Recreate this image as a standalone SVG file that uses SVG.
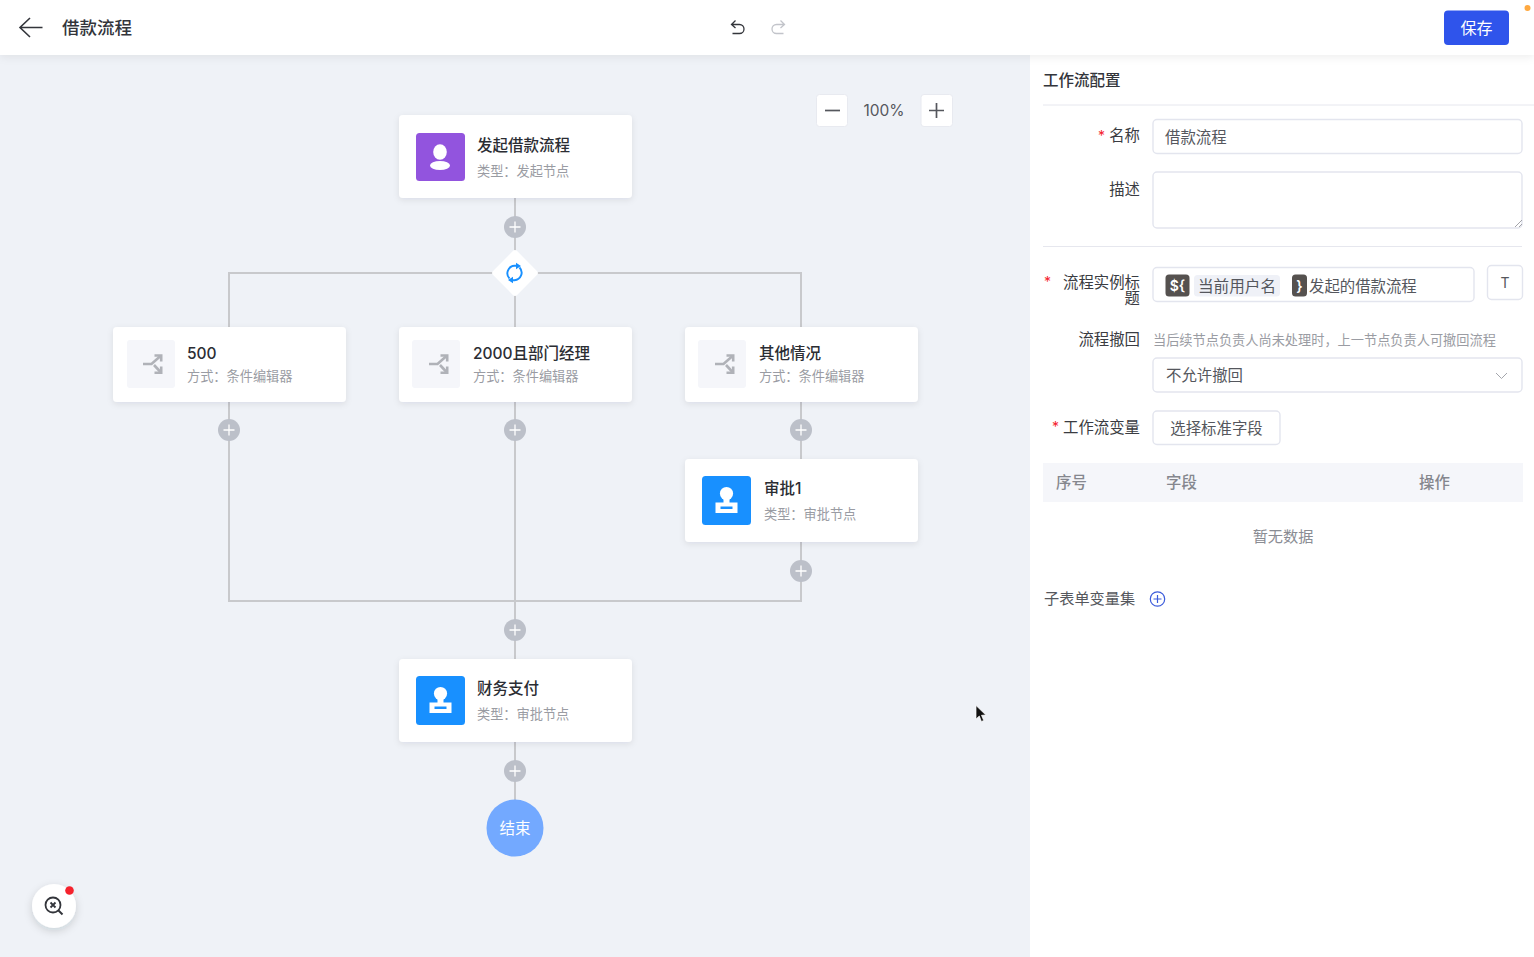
<svg xmlns="http://www.w3.org/2000/svg" width="1534" height="957" viewBox="0 0 1534 957">
<defs>
<filter id="cardShadow" x="-10%" y="-15%" width="120%" height="135%"><feDropShadow dx="0" dy="2" stdDeviation="3" flood-color="#1d2129" flood-opacity="0.09"/></filter>
<filter id="headShadow" x="-2%" y="-20%" width="104%" height="150%"><feDropShadow dx="0" dy="2" stdDeviation="4" flood-color="#1d2129" flood-opacity="0.07"/></filter>
<filter id="btnShadow" x="-40%" y="-40%" width="180%" height="190%"><feDropShadow dx="0" dy="3" stdDeviation="4" flood-color="#1d2129" flood-opacity="0.16"/></filter>
<g id="plus"><circle r="11" fill="#bcc0c9"/><path d="M-5.5 0H5.5M0-5.5V5.5" stroke="#fff" stroke-width="1.3" fill="none"/></g>
<g id="person"><ellipse cx="0" cy="-5" rx="6.800" ry="7.800" fill="#fff"/><ellipse cx="0" cy="8.500" rx="10" ry="4.500" fill="#fff"/></g>
<g id="stamp"><rect x="-24.5" y="-24.5" width="49" height="49" rx="3.5" fill="#1890ff"/><circle cx="0" cy="-7" r="6.6" fill="#fff"/><rect x="-3" y="-3" width="6" height="6" fill="#fff"/><path fill-rule="evenodd" fill="#fff" d="M-11 2H11V12.5H-11ZM-6 6V8.5H6V6Z"/></g>
<g id="branch" fill="none" stroke="#b0b2b8" stroke-width="2.6"><path d="M-9 0H-0.5L8.5-8"/><path d="M2.5-8.500H9.200V-2.500"/><path d="M2 1L8.500 8"/><path d="M2.500 8.800H9.200V2.500"/></g>
</defs>
<style>
text{font-family:"Inter","Noto Sans CJK SC","Noto Sans",sans-serif}
.card{fill:#fff;filter:url(#cardShadow)}
.title{font-size:15.5px;font-weight:500;fill:#2b2d33}
.sub{font-size:13.200px;fill:#9a9ca3}
.wire{fill:none;stroke:#c8c9cc;stroke-width:2}
.lab{font-size:15.400px;fill:#3a3c42;text-anchor:end}
.box{fill:#fff;stroke:#e3e5ee;stroke-width:1.4}
.star{font-size:14px;fill:#f5222d}
.th{font-size:15.400px;font-weight:500;fill:#85878e}
.val{font-size:15.400px;fill:#55575d}
.chipd{fill:#55514f}
.chipt{font-size:14px;font-weight:600;fill:#fff}
.zbtn{fill:#fff;stroke:#e8eaf0;stroke-width:1}
</style>
<rect width="1534" height="957" fill="#eff2f7"/>
<g id="connectors">
<path class="wire" d="M515 198V327M229 327V273H801V327M229 402V601H801V459M515 402V659M801 402V459M801 542V601M515 742V800"/>
</g>
<g id="node-start"><rect class="card" x="399" y="115" width="233" height="83" rx="4"/><rect x="416" y="133" width="49" height="48" rx="3.500" fill="#9254de"/><use href="#person" x="440" y="157"/><text class="title" x="477" y="150.500">发起借款流程</text><text class="sub" x="477" y="175.500">类型：发起节点</text></g>
<g id="add-1"><use href="#plus" x="515" y="227"/></g>
<g id="gateway"><rect x="498" y="256" width="34" height="34" rx="3" fill="#fff" transform="rotate(45 515 273)"/><path d="M509.500 278.500A7.500 7.500 0 0 1 514.500 265.800H517M519.500 267.500A7.500 7.500 0 0 1 514.500 280.200H512" fill="none" stroke="#1890ff" stroke-width="1.900"/><path d="M516 262.800L521 266L516 269.200ZM513 276.800L508 280L513 283.200Z" fill="#1890ff"/></g>
<g id="node-500"><rect class="card" x="113" y="327" width="233" height="75" rx="4"/><rect x="127" y="340" width="48" height="48" rx="3" fill="#f5f6fa"/><use href="#branch" x="152" y="364"/><text class="title" x="187" y="359">500</text><text class="sub" x="187" y="381">方式：条件编辑器</text></g>
<g id="node-2000"><rect class="card" x="399" y="327" width="233" height="75" rx="4"/><rect x="412" y="340" width="48" height="48" rx="3" fill="#f5f6fa"/><use href="#branch" x="438" y="364"/><text class="title" x="473" y="359">2000且部门经理</text><text class="sub" x="473" y="381">方式：条件编辑器</text></g>
<g id="node-other"><rect class="card" x="685" y="327" width="233" height="75" rx="4"/><rect x="698" y="340" width="48" height="48" rx="3" fill="#f5f6fa"/><use href="#branch" x="724" y="364"/><text class="title" x="759" y="359">其他情况</text><text class="sub" x="759" y="381">方式：条件编辑器</text></g>
<g id="add-2"><use href="#plus" x="229" y="430"/></g>
<g id="add-3"><use href="#plus" x="515" y="430"/></g>
<g id="add-4"><use href="#plus" x="801" y="430"/></g>
<g id="node-approve1"><rect class="card" x="685" y="459" width="233" height="83" rx="4"/><use href="#stamp" x="726.500" y="500.500"/><text class="title" x="764" y="494">审批1</text><text class="sub" x="764" y="519">类型：审批节点</text></g>
<g id="add-5"><use href="#plus" x="801" y="571"/></g>
<g id="add-6"><use href="#plus" x="515" y="630"/></g>
<g id="node-finance"><rect class="card" x="399" y="659" width="233" height="83" rx="4"/><use href="#stamp" x="440.500" y="700.500"/><text class="title" x="477" y="694">财务支付</text><text class="sub" x="477" y="719">类型：审批节点</text></g>
<g id="add-7"><use href="#plus" x="515" y="771"/></g>
<g id="node-end"><circle cx="515" cy="828" r="28.500" fill="#73a9ff"/><text x="515" y="834" font-size="15.500" fill="#fff" text-anchor="middle">结束</text></g>
<g id="zoom-controls"><rect class="zbtn" x="816.500" y="94.500" width="31" height="32" rx="3"/><path d="M825 110.500H840" stroke="#55575d" stroke-width="1.700"/><text x="884" y="116" font-size="15.500" fill="#55575d" text-anchor="middle">100%</text><rect class="zbtn" x="921" y="94.500" width="31.500" height="32" rx="3"/><path d="M929 110.500H944M936.500 103V118" stroke="#55575d" stroke-width="1.700"/></g>
<g id="cursor"><path d="M976 705.500V719L979.300 716L981.400 721.500L983.700 720.500L981.500 715.300L985.800 715Z" fill="#111" stroke="#fff" stroke-width="0.700"/></g>
<g id="help"><circle cx="54" cy="906" r="22" fill="#fff" filter="url(#btnShadow)"/><circle cx="53" cy="905" r="7.500" fill="none" stroke="#33353b" stroke-width="1.800"/><path d="M58.500 910.500L62.500 914.500" stroke="#33353b" stroke-width="2"/><path d="M50.500 902.500L55.500 907.500M55.500 902.500L50.500 907.500" stroke="#33353b" stroke-width="1.800"/><circle cx="69.500" cy="890.500" r="4.300" fill="#f5222d"/></g>
<g id="panel">
<rect x="1030" y="55" width="504" height="902" fill="#fff"/>
<text x="1043" y="86" font-size="15.500" font-weight="500" fill="#33353b">工作流配置</text>
<path d="M1043 105H1534" stroke="#e6e7ee" stroke-width="1"/>
<text class="star" x="1098" y="141">*</text><text class="lab" x="1140" y="141">名称</text>
<rect class="box" x="1153" y="119.500" width="369" height="34" rx="4"/><text class="val" x="1165" y="142.500">借款流程</text>
<text class="lab" x="1140" y="194.500">描述</text>
<rect class="box" x="1153" y="172" width="369" height="56" rx="4"/><path d="M1515 227L1522 220M1519 227L1522 224" stroke="#8b8d93" stroke-width="0.800"/>
<path d="M1043 246.500H1522" stroke="#e6e7ee" stroke-width="1"/>
<text class="star" x="1044" y="287">*</text><text class="lab" x="1140" y="287.500">流程实例标</text><text class="lab" x="1140" y="304">题</text>
<rect class="box" x="1153" y="267.500" width="321" height="34" rx="4"/>
<rect class="chipd" x="1165.500" y="274.500" width="24" height="22" rx="3.500"/><text class="chipt" x="1177.500" y="291" text-anchor="middle">${</text>
<rect x="1194" y="275" width="86" height="21.500" rx="3.500" fill="#eff1f7"/><text x="1198" y="291.500" font-size="15.600" fill="#55575d">当前用户名</text>
<rect class="chipd" x="1292" y="274.500" width="15" height="22" rx="3.500"/><text class="chipt" x="1299.500" y="291" text-anchor="middle">}</text>
<text class="val" x="1309" y="291.500">发起的借款流程</text>
<rect class="box" x="1487.500" y="265.500" width="35" height="34" rx="4"/><text x="1505" y="288" font-size="14" fill="#55575d" text-anchor="middle">T</text>
<text class="lab" x="1140" y="344.500">流程撤回</text>
<text x="1153" y="344.500" font-size="13.200" fill="#9a9ca3">当后续节点负责人尚未处理时，上一节点负责人可撤回流程</text>
<rect class="box" x="1153" y="358" width="369" height="34" rx="4"/><text class="val" x="1166" y="381">不允许撤回</text>
<path d="M1496 373L1501.500 378.500L1507 373" fill="none" stroke="#a4a6ac" stroke-width="1"/>
<text class="star" x="1052" y="432">*</text><text class="lab" x="1140" y="432.500">工作流变量</text>
<rect class="box" x="1153" y="411" width="127" height="33.500" rx="4"/><text x="1216.500" y="433.500" font-size="15.400" fill="#55575d" text-anchor="middle">选择标准字段</text>
<rect x="1043" y="463" width="480" height="39" fill="#f5f6fa"/>
<text class="th" x="1056" y="487.500">序号</text><text class="th" x="1166" y="487.500">字段</text><text class="th" x="1419" y="487.500">操作</text>
<text x="1283" y="541.500" font-size="15.200" fill="#8a8c93" text-anchor="middle">暂无数据</text>
<text x="1044" y="603.500" font-size="15.200" fill="#55575d">子表单变量集</text>
<circle cx="1157.500" cy="599" r="7.200" fill="none" stroke="#3b5bdb" stroke-width="1.200"/><path d="M1153.500 599H1161.500M1157.500 595V603" stroke="#3b5bdb" stroke-width="1.200"/>
</g>
<g id="header">
<rect x="0" y="0" width="1534" height="55" fill="#fff" filter="url(#headShadow)"/>
<path d="M42.500 27.500H20M30 18L20 27.500L30 37" fill="none" stroke="#33353b" stroke-width="1.600"/>
<text x="62" y="34" font-size="17.500" font-weight="500" fill="#33353b">借款流程</text>
<path d="M735.500 20.500L731.500 24.500L735.500 28M731.500 24.500H739.500A4.500 4.500 0 0 1 739.500 33.500H732.500" fill="none" stroke="#33353b" stroke-width="1.300"/>
<path d="M780.500 20.500L784.500 24.500L780.500 28M784.500 24.500H776.500A4.500 4.500 0 0 0 776.500 33.500H783.500" fill="none" stroke="#c2c4ca" stroke-width="1.300"/>
<rect x="1444" y="10.500" width="65" height="34.500" rx="4" fill="#2f54eb"/>
<text x="1476.500" y="34" font-size="16" fill="#fff" text-anchor="middle">保存</text>
<circle cx="1527.500" cy="8" r="3" fill="#ffa940"/>
</g>
</svg>
